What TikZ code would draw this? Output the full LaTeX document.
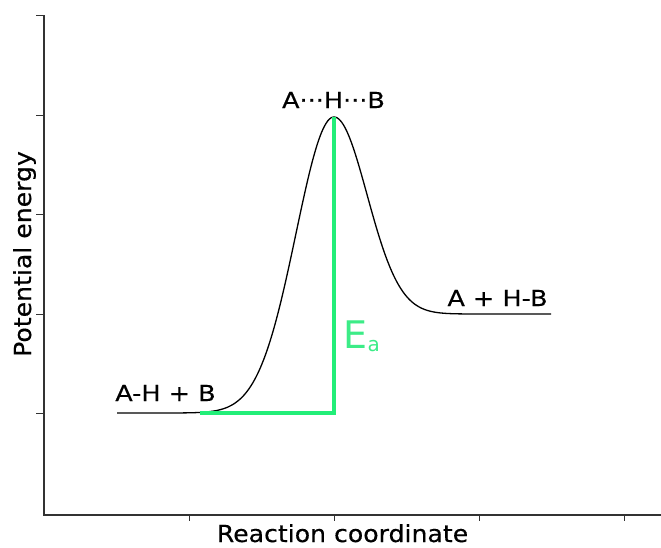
\documentclass[tikz,border=0pt]{standalone}
\usepackage{fontspec}
\setmainfont{DejaVu Sans}
\newfontfamily\lblfont{DejaVu Sans}[FakeStretch=1.16,FakeBold=0.3]
\newfontfamily\axfont{DejaVu Sans}[FakeStretch=1.07,FakeBold=0.3]
\definecolor{eagreen}{RGB}{34,238,120}
\definecolor{ealabel}{RGB}{60,236,135}
\definecolor{axisgray}{RGB}{50,50,50}
\begin{document}
\begin{tikzpicture}[x=1pt,y=-1pt,
  axisline/.style={draw=axisgray,line width=1.4pt},
  tickline/.style={draw=axisgray,line width=1pt},
  curveline/.style={draw=black,line width=1.3pt},
  ealine/.style={draw=eagreen,line width=3.2pt},
  lbl/.style={inner sep=0pt,anchor=base,font=\lblfont\fontsize{22}{24}\selectfont},
  axlbl/.style={inner sep=0pt,anchor=base,text depth=0pt,font=\axfont\fontsize{23.5}{25}\selectfont}]
\useasboundingbox (0,0) rectangle (661,547);
% axes
\coordinate (ytop) at (44,15);
\coordinate (orig) at (44,515);
\coordinate (xend) at (661,515);
\draw[axisline] (ytop) -- (orig) -- (xend);
\foreach \yy in {15,115,214,314,413} \draw[tickline] (36,\yy) -- (44,\yy);
\foreach \xx in {189,334,479,624} \draw[tickline] (\xx,515) -- (\xx,521);
% curve
\draw[curveline] plot[domain=117:334,samples=140,variable=\x] (\x,{413-296*exp(-((\x-334)/38)*((\x-334)/38)/2)})
  -- plot[domain=334:551,samples=140,variable=\x] (\x,{314-197*exp(-((\x-334)/33)*((\x-334)/33)/2)});
% activation energy
\coordinate (eastart) at (200,413);
\coordinate (eacorner) at (334,413);
\coordinate (peak) at (334,117);
\draw[ealine,line join=miter] (eastart) -- (eacorner) -- (peak);
% labels
\node[lbl] (react) at (165.5,401) {A-H + B};
\node[lbl] (ts) at (333.5,108) {A···H···B};
\node[lbl] (prod) at (497.5,306) {A + H-B};
\node[inner sep=0pt,anchor=base west,text=ealabel,font=\fontsize{38}{40}\selectfont] (ea) at (343,348) {E\kern0.5pt\raisebox{-3.5pt}{\fontsize{20}{22}\selectfont a}};
\node[axlbl] (xlab) at (342.5,542) {Reaction coordinate};
\node[axlbl,rotate=90] (ylab) at (31,254) {Potential energy};
\end{tikzpicture}
\end{document}
